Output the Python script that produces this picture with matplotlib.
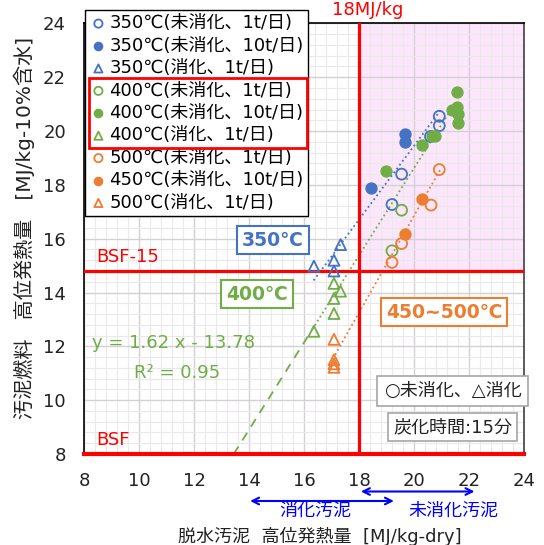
import matplotlib
matplotlib.use("Agg")
import matplotlib.pyplot as plt
import matplotlib.patches as mpatches
import matplotlib.transforms as mtrans
import numpy as np

plt.rcParams['font.family'] = ['DejaVu Sans', 'Noto Sans CJK JP']

# ---- data ----
b_open_x = [20.92, 20.92, 20.60, 19.55, 19.20]
b_open_y = [20.55, 20.20, 19.80, 18.40, 17.27]
b_fill_x = [19.67, 19.67, 18.43]
b_fill_y = [19.90, 19.60, 17.87]
b_tri_x = [17.33, 16.36, 17.09, 17.09]
b_tri_y = [15.78, 14.98, 15.20, 14.80]

g_open_x = [19.55, 19.20]
g_open_y = [17.06, 15.55]
g_fill_x = [21.58, 21.40, 21.55, 21.60, 21.60, 20.75, 20.65, 20.30, 19.00]
g_fill_y = [21.45, 20.80, 20.90, 20.65, 20.30, 19.80, 19.80, 19.50, 18.50]
g_tri_x = [17.09, 17.33, 17.09, 17.09, 16.36]
g_tri_y = [14.34, 14.05, 13.78, 13.22, 12.56]

o_open_x = [20.92, 20.62, 19.55, 19.20]
o_open_y = [18.57, 17.25, 15.82, 15.12]
o_fill_x = [20.30, 19.67]
o_fill_y = [17.47, 16.18]
o_tri_x = [17.09, 17.09, 17.09, 17.09]
o_tri_y = [12.26, 11.50, 11.35, 11.22]

# trend lines: slope, intercept, x-range
blue_fit = (1.37, -7.95, 16.35, 20.95)
green_fit = (1.62, -13.78, 16.30, 21.40)
green_ext = (13.44, 16.30)
orange_fit = (1.80, -19.15, 17.13, 20.95)

labels = ['350℃(未消化、1t/日)', '350℃(未消化、10t/日)', '350℃(消化、1t/日)',
          '400℃(未消化、1t/日)', '400℃(未消化、10t/日)', '400℃(消化、1t/日)',
          '500℃(未消化、1t/日)', '450℃(未消化、10t/日)', '500℃(消化、1t/日)']

ticks = [8, 10, 12, 14, 16, 18, 20, 22, 24]
bsf15 = 14.8
bsf = 8
x18 = 18

BLUE = '#4472C4'
GREEN = '#70AD47'
ORANGE = '#ED7D31'
RED = '#FF0000'
ARROW = '#0000FF'

fig = plt.figure(figsize=(5.44, 5.45), dpi=100)
ax = fig.add_axes([0.1544, 0.167, 0.8088, 0.790])
ax.set_xlim(8, 24)
ax.set_ylim(8, 24)

# pink region
ax.add_patch(mpatches.Rectangle((x18, bsf15), 24 - x18, 24 - bsf15,
                                facecolor='#fce6fb', edgecolor='none', zorder=0))

ax.set_xticks(ticks)
ax.set_yticks(ticks)
ax.set_xticks(np.arange(8, 24.01, 0.4), minor=True)
ax.set_yticks(np.arange(8, 24.01, 0.4), minor=True)
ax.grid(which='major', color='#d4d0d6', lw=1.0, zorder=0.5)
ax.grid(which='minor', color='#ebe8ec', lw=0.8, zorder=0.4)
ax.set_axisbelow(True)
ax.tick_params(which='both', length=0)
ax.tick_params(axis='x', pad=13, labelsize=13, colors='#222222')
ax.tick_params(axis='y', pad=13, labelsize=13, colors='#222222')
for s in ['left', 'top']:
    ax.spines[s].set_color('black')
    ax.spines[s].set_linewidth(1.2)
ax.spines['right'].set_color('#404040')
ax.spines['right'].set_linewidth(1.2)
ax.spines['bottom'].set_visible(False)

# red reference lines
ax.axhline(bsf15, color=RED, lw=2.3, zorder=3)
ax.axhline(bsf, color=RED, lw=3.0, zorder=3, clip_on=False)
ax.axvline(x18, color=RED, lw=2.3, zorder=3)

# trend lines
def fit_line(fit, style, color, x0=None, x1=None):
    m, b, a0, a1 = fit
    if x0 is not None:
        a0, a1 = x0, x1
    xs = np.array([a0, a1])
    ax.plot(xs, m * xs + b, linestyle=style, color=color, lw=1.3, zorder=2)

fit_line(blue_fit, ':', BLUE)
fit_line(green_fit, ':', GREEN)
fit_line(green_fit, (0, (5, 4)), GREEN, green_ext[0], green_ext[1])
fit_line(orange_fit, ':', ORANGE)

ms = 62
lw = 1.3
h = []
h.append(ax.scatter(b_open_x, b_open_y, s=ms, facecolors='none', edgecolors=BLUE, linewidths=lw, zorder=4))
h.append(ax.scatter(b_fill_x, b_fill_y, s=ms, color=BLUE, zorder=4))
h.append(ax.scatter(b_tri_x, b_tri_y, s=ms, marker='^', facecolors='none', edgecolors=BLUE, linewidths=lw, zorder=4))
h.append(ax.scatter(g_open_x, g_open_y, s=ms, facecolors='none', edgecolors=GREEN, linewidths=lw, zorder=4))
h.append(ax.scatter(g_fill_x, g_fill_y, s=ms, color=GREEN, zorder=4))
h.append(ax.scatter(g_tri_x, g_tri_y, s=ms, marker='^', facecolors='none', edgecolors=GREEN, linewidths=lw, zorder=4))
h.append(ax.scatter(o_open_x, o_open_y, s=ms, facecolors='none', edgecolors=ORANGE, linewidths=lw, zorder=4))
h.append(ax.scatter(o_fill_x, o_fill_y, s=ms, color=ORANGE, zorder=4))
h.append(ax.scatter(o_tri_x, o_tri_y, s=ms, marker='^', facecolors='none', edgecolors=ORANGE, linewidths=lw, zorder=4))

leg = ax.legend(h, labels, loc='upper left', bbox_to_anchor=(0.156, 0.982),
                bbox_transform=fig.transFigure, fontsize=13, frameon=True,
                fancybox=False, edgecolor='black', framealpha=1, borderaxespad=0,
                handletextpad=0.1, handlelength=1.0, labelspacing=0.245,
                borderpad=0.25, markerscale=0.75)
leg.get_frame().set_linewidth(1.0)
leg.set_zorder(10)

# red rectangle around the 400C entries
fig.add_artist(mpatches.Rectangle((89 / 544, 1 - 148 / 545), (307 - 89) / 544, 70 / 545,
                                  transform=fig.transFigure, fill=False,
                                  edgecolor=RED, lw=2.0, zorder=20))

# annotations
ax.text(18.3, 24.15, '18MJ/kg', color=RED, fontsize=13, ha='center', va='bottom')
ax.text(8.45, 15.0, 'BSF-15', color=RED, fontsize=13, ha='left', va='bottom')
ax.text(8.45, 8.2, 'BSF', color=RED, fontsize=13, ha='left', va='bottom')
ax.text(14.87, 15.95, '350℃', color=BLUE, fontsize=13.5, fontweight='bold', ha='center', va='center',
        bbox=dict(boxstyle='square,pad=0.25', fc='white', ec=BLUE, lw=1.5), zorder=6)
ax.text(14.29, 13.94, '400℃', color=GREEN, fontsize=13.5, fontweight='bold', ha='center', va='center',
        bbox=dict(boxstyle='square,pad=0.25', fc='white', ec=GREEN, lw=1.5), zorder=6)
ax.text(21.1, 13.27, '450~500℃', color=ORANGE, fontsize=13.5, fontweight='bold', ha='center', va='center',
        bbox=dict(boxstyle='square,pad=0.25', fc='white', ec=ORANGE, lw=1.5), zorder=6)
ax.text(8.3, 12.12, 'y = 1.62 x - 13.78', color=GREEN, fontsize=13, ha='left', va='center', zorder=6)
ax.text(11.4, 11.0, 'R² = 0.95', color=GREEN, fontsize=13, ha='center', va='center', zorder=6)
ax.text(21.4, 10.34, '○未消化、△消化', color='#222222', fontsize=13, ha='center', va='center',
        bbox=dict(boxstyle='square,pad=0.35', fc='white', ec='#a6a6a6', lw=1.2), zorder=6, clip_on=False)
ax.text(21.4, 9.0, '炭化時間:15分', color='#222222', fontsize=13, ha='center', va='center',
        bbox=dict(boxstyle='square,pad=0.3', fc='white', ec='#a6a6a6', lw=1.2), zorder=6)

# arrows below the x axis
def harrow(x0, x1, ypix):
    y = 1 - ypix / 545
    ax.annotate('', xy=(x0, y), xytext=(x1, y), xycoords=('data', 'figure fraction'),
                textcoords=('data', 'figure fraction'),
                arrowprops=dict(arrowstyle='<->', color=ARROW, lw=1.5,
                                shrinkA=0, shrinkB=0, mutation_scale=12))
harrow(14.04, 19.27, 501)
harrow(18.07, 22.2, 491.5)
blend = mtrans.blended_transform_factory(ax.transData, fig.transFigure)
ax.text(16.4, 1 - 511 / 545, '消化汚泥', color=ARROW, fontsize=13, ha='center', va='center',
        transform=blend)
ax.text(21.45, 1 - 511 / 545, '未消化汚泥', color=ARROW, fontsize=13, ha='center', va='center',
        transform=blend)

fig.text(0.5 * (174 + 465) / 544, 1 - 536 / 545, '脱水汚泥  高位発熱量  [MJ/kg-dry]',
         fontsize=13, ha='center', va='center', color='#222222')
fig.text(24 / 544, 1 - 228 / 545, '汚泥燃料   高位発熱量   [MJ/kg-10%含水]',
         fontsize=14.5, ha='center', va='center', rotation=90, color='#222222')

fig.savefig('out.png', dpi=100)
